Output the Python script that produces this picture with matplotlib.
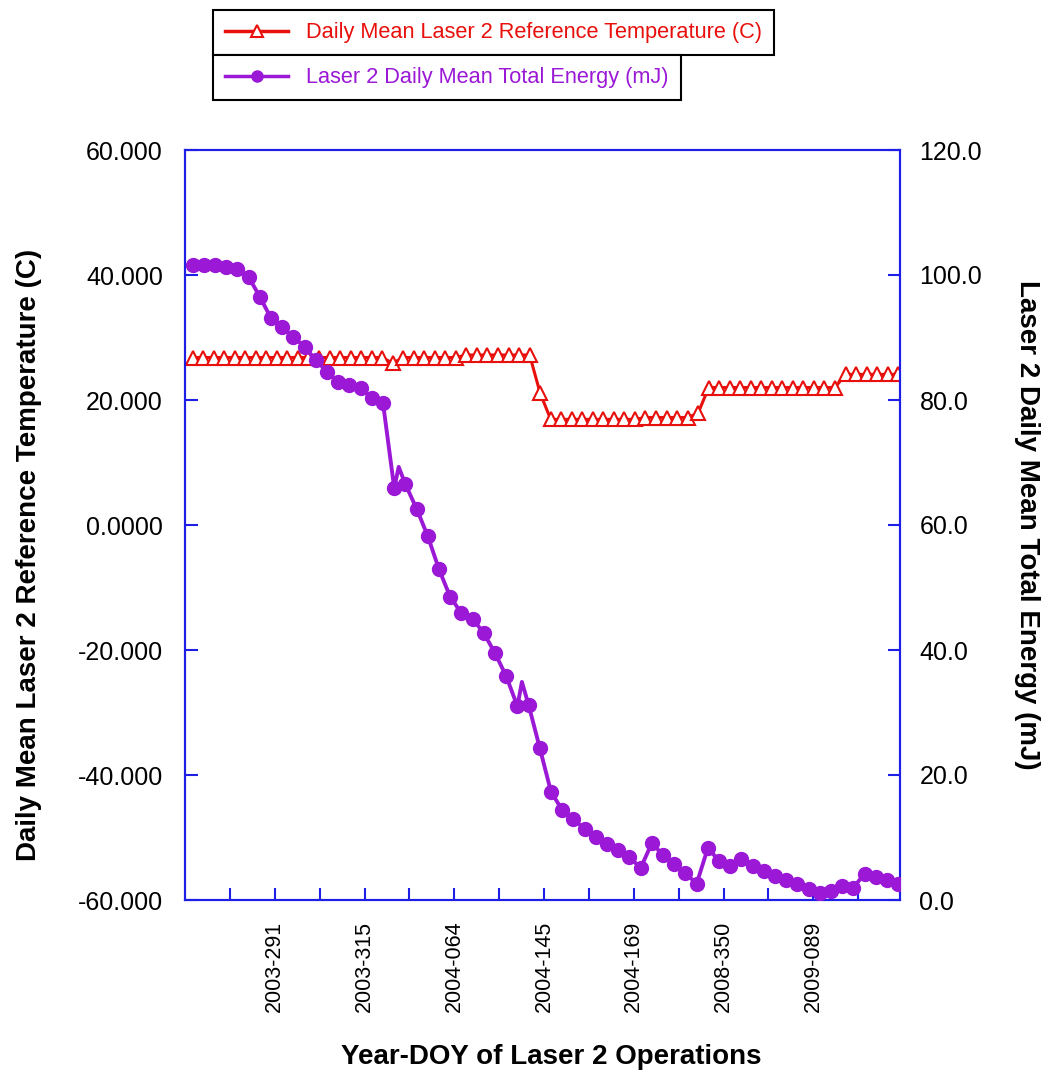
import numpy as np
import matplotlib
matplotlib.use("Agg")
import matplotlib.pyplot as plt
from matplotlib.lines import Line2D

plt.rcParams["font.family"] = ["Liberation Sans", "DejaVu Sans"]

# x tick labels (every other tick is labelled)
doy_labels = ["2003-291", "2003-315", "2004-064", "2004-145",
              "2004-169", "2008-350", "2009-089"]

# daily mean laser 2 reference temperature (C)
temp_c = [26.8, 26.8, 26.8, 26.8, 26.8, 26.8, 26.8, 26.8, 26.8, 26.8,
          26.8, 26.8, 26.8, 26.8, 26.8, 26.8, 26.8, 26.8, 26.8, 25.9,
          26.8, 26.8, 26.8, 26.8, 26.8, 26.8, 27.2, 27.2, 27.2, 27.2,
          27.2, 27.2, 27.2, 21.1, 16.9, 16.9, 16.9, 16.9, 16.9, 16.9,
          16.9, 16.9, 16.9, 17.2, 17.2, 17.2, 17.2, 17.2, 17.9, 22.0,
          22.0, 22.0, 22.0, 22.0, 22.0, 22.0, 22.0, 22.0, 22.0, 22.0,
          22.0, 22.0, 24.1, 24.1, 24.1, 24.1, 24.1, 24.1]

# laser 2 daily mean total energy (mJ)
energy_mj = [101.6, 101.6, 101.6, 101.3, 101.0, 99.7, 96.5, 93.1, 91.7, 90.1,
             88.5, 86.4, 84.5, 82.9, 82.4, 81.9, 80.3, 79.5, 65.9, 66.5,
             62.6, 58.2, 52.9, 48.5, 45.9, 45.0, 42.7, 39.5, 35.8, 31.0,
             31.2, 24.3, 17.3, 14.4, 13.0, 11.3, 10.1, 9.0, 8.0, 6.9,
             5.1, 9.1, 7.2, 5.8, 4.3, 2.6, 8.3, 6.3, 5.4, 6.6,
             5.4, 4.6, 3.8, 3.2, 2.6, 1.8, 1.1, 1.4, 2.3, 2.0,
             4.2, 3.7, 3.2, 2.6]
# short unmarked spikes in the energy trace (after sample index)
spike_after = [18, 29]
spike_mj = [69.3, 34.9]

temp_ticks = [-60, -40, -20, 0, 20, 40, 60]
temp_ticklabels = ["-60.000", "-40.000", "-20.000", "0.0000", "20.000", "40.000", "60.000"]
energy_ticks = [0, 20, 40, 60, 80, 100, 120]
energy_ticklabels = ["0.0", "20.0", "40.0", "60.0", "80.0", "100.0", "120.0"]

RED = "#E8100C"
PURPLE = "#9A18D6"
BLUE = "#1E1EE6"

# x axis in tick units; samples spread over the plotted span
x_lo, x_hi = 0.0, 15.93
first, last = 0.17, 15.89
tx = np.linspace(first, last, len(temp_c))
ex = np.linspace(first, last, len(energy_mj))

# energy line including the spikes
line_x = list(ex)
line_y = list(energy_mj)
for k, (i, v) in enumerate(zip(spike_after, spike_mj)):
    pos = i + 1 + k
    line_x.insert(pos, ex[i] + 0.4 * (ex[i + 1] - ex[i]))
    line_y.insert(pos, v)

fig = plt.figure(figsize=(10.47, 10.8), dpi=100)
ax = fig.add_axes([185 / 1047, 1 - 900 / 1080, 715 / 1047, 750 / 1080])
ax2 = ax.twinx()

ax.plot(tx, temp_c, color=RED, lw=2.2, marker="^", ms=10,
        mfc="white", mec=RED, mew=1.5, zorder=3)
ax2.plot(line_x, line_y, color=PURPLE, lw=2.8, zorder=3)
ax2.plot(ex, energy_mj, ls="none", marker="o", ms=10, color=PURPLE, zorder=4)

ax.set_xlim(x_lo, x_hi)
ax.set_ylim(-60, 60)
ax2.set_ylim(0, 120)

ax.set_xticks(np.arange(2, 15, 2))
ax.set_xticklabels(doy_labels, rotation=90, fontsize=15.5)
ax.set_xticks(np.arange(1, 16, 2), minor=True)
ax.tick_params(axis="x", which="both", direction="in", length=9, width=1.5,
               color=BLUE, pad=15, top=False)

ax.set_yticks(temp_ticks)
ax.set_yticklabels(temp_ticklabels, fontsize=18)
ax.tick_params(axis="y", direction="in", length=9, width=1.5, color=BLUE, pad=16)
ax2.set_yticks(energy_ticks)
ax2.set_yticklabels(energy_ticklabels, fontsize=18)
ax2.tick_params(axis="y", direction="in", length=9, width=1.5, color=BLUE, pad=14)

for a in (ax, ax2):
    for s in a.spines.values():
        s.set_color(BLUE)
        s.set_linewidth(1.5)

ax.set_xlabel("Year-DOY of Laser 2 Operations", fontsize=20, fontweight="bold",
              va="center")
ax.xaxis.set_label_coords(0.512, -0.209)
ax.set_ylabel("Daily Mean Laser 2 Reference Temperature (C)", fontsize=20,
              fontweight="bold", va="center")
ax.yaxis.set_label_coords(-0.218, 0.46)
ax2.set_ylabel("Laser 2 Daily Mean Total Energy (mJ)", fontsize=20,
               fontweight="bold", rotation=270, va="center", ha="center")
ax2.yaxis.set_label_coords(1.178, 0.5)

h1 = Line2D([], [], color=RED, lw=2.5, marker="^", ms=8, mfc="white", mec=RED, mew=1.5)
h2 = Line2D([], [], color=PURPLE, lw=2.5, marker="o", ms=8)
for h, lab, col, top in [(h1, "Daily Mean Laser 2 Reference Temperature (C)", RED, 10),
                         (h2, "Laser 2 Daily Mean Total Energy (mJ)", PURPLE, 55)]:
    leg = fig.legend(handles=[h], labels=[lab], loc="upper left",
                     bbox_to_anchor=(213 / 1047, 1 - top / 1080),
                     fontsize=15.7, labelcolor=col, fancybox=False, framealpha=1,
                     edgecolor="black", handlelength=2.9, borderpad=0.56,
                     borderaxespad=0)
    leg.get_frame().set_linewidth(1.5)

fig.savefig("out.png", dpi=100)
